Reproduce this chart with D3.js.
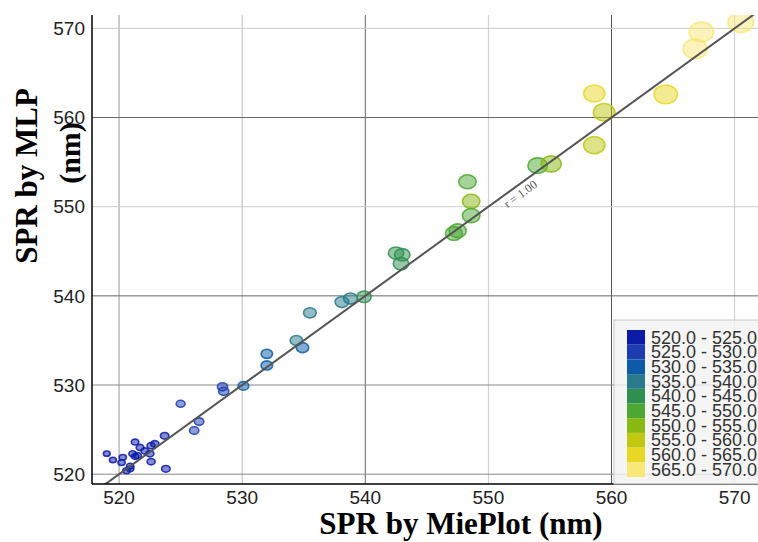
<!DOCTYPE html>
<html>
<head>
<meta charset="utf-8">
<script src="https://cdn.jsdelivr.net/npm/d3@7"></script>
<style>
  body { margin: 0; background: #fff; }
  svg { display: block; }
</style>
</head>
<body>
<div id="chart"></div>
<script>
// SPR by MiePlot (x) vs SPR by MLP (y), group = legend bin index
var mieplot = [519.0, 519.5, 520.2, 520.3, 520.6, 520.9, 520.9, 521.3, 521.7, 521.1,
               521.5, 521.3, 522.1, 522.5, 522.6, 522.9, 522.6, 523.7, 523.8, 525.0,
               526.1, 526.5, 528.4, 528.5, 530.1, 532.0, 532.0, 534.4, 534.9, 535.5,
               538.1, 538.8, 539.9, 542.5, 543.0, 542.9, 547.2, 547.5, 548.3, 548.6,
               548.6, 554.0, 555.1, 558.6, 559.4, 558.6, 564.4, 566.8, 567.3, 570.5];
var mlp     = [522.3, 521.6, 521.3, 521.9, 520.4, 520.6, 520.9, 523.6, 523.0, 522.3,
               522.1, 522.0, 522.6, 522.3, 523.2, 523.4, 521.4, 524.3, 520.6, 527.9,
               524.9, 525.9, 529.8, 529.3, 529.9, 533.5, 532.2, 535.0, 534.2, 538.1,
               539.3, 539.7, 539.9, 544.8, 544.6, 543.6, 547.0, 547.3, 552.8, 550.6,
               549.0, 554.6, 554.8, 556.9, 560.6, 562.7, 562.6, 567.7, 569.6, 570.7];
var group   = [0, 0, 0, 0, 0, 0, 0, 0, 0, 0,
               0, 0, 0, 0, 0, 0, 0, 0, 0, 1,
               1, 1, 1, 1, 2, 2, 2, 3, 2, 3,
               3, 3, 4, 4, 4, 4, 5, 5, 5, 6,
               5, 5, 6, 7, 7, 8, 8, 9, 9, 9];

var legendLabels = ["520.0 - 525.0", "525.0 - 530.0", "530.0 - 535.0", "535.0 - 540.0",
                    "540.0 - 545.0", "545.0 - 550.0", "550.0 - 555.0", "555.0 - 560.0",
                    "560.0 - 565.0", "565.0 - 570.0"];
var legendColors = ["#0c1aa8", "#1c3cb0", "#0c5aa8", "#287a8c", "#2f8f50",
                    "#4ca832", "#88b812", "#c0c812", "#e8d824", "#f8e878"];
var ticks = [520, 530, 540, 550, 560, 570];
var rLabel = "r = 1.00";

var width = 758, height = 542,
    pL = 92, pR = 758, pT = 15, pB = 484;

var svg = d3.select("#chart").append("svg")
    .attr("width", width)
    .attr("height", height);

var x = d3.scaleLinear().domain([517.8, 571.9]).range([pL, pR]);
var y = d3.scaleLinear().domain([518.9, 571.5]).range([pB, pT]);
var rx = d3.scaleLinear().domain([520, 570]).range([4.3, 13.4]);
var color = d3.scaleOrdinal().domain(d3.range(10)).range(legendColors);

svg.append("clipPath").attr("id", "plot")
  .append("rect")
    .attr("x", pL).attr("y", pT)
    .attr("width", pR - pL).attr("height", pB - pT);

// grid lines (the source has uneven grey shades)
var vShade = ["#999", "#bbb", "#666", "#ccc", "#555", "#ccc"];
var hShade = ["#888", "#888", "#666", "#ccc", "#666", "#ccc"];

svg.append("g").selectAll("line")
    .data(ticks)
  .enter().append("line")
    .attr("x1", function(d) { return x(d); })
    .attr("x2", function(d) { return x(d); })
    .attr("y1", pT).attr("y2", pB)
    .style("stroke", function(d, i) { return vShade[i]; })
    .style("stroke-width", 1);

svg.append("g").selectAll("line")
    .data(ticks)
  .enter().append("line")
    .attr("y1", function(d) { return y(d); })
    .attr("y2", function(d) { return y(d); })
    .attr("x1", pL).attr("x2", pR)
    .style("stroke", function(d, i) { return hShade[i]; })
    .style("stroke-width", 1);

// points
var pts = svg.append("g").attr("clip-path", "url(#plot)");
pts.selectAll("ellipse")
    .data(d3.range(mieplot.length))
  .enter().append("ellipse")
    .attr("cx", function(i) { return x(mieplot[i]); })
    .attr("cy", function(i) { return y(mlp[i]); })
    .attr("rx", function(i) { return rx(mieplot[i]) - 0.75; })
    .attr("ry", function(i) { return rx(mieplot[i]) * 0.82 - 0.75; })
    .style("fill", function(i) { return color(group[i]); })
    .style("fill-opacity", 0.5)
    .style("stroke", function(i) { return color(group[i]); })
    .style("stroke-opacity", 0.85)
    .style("stroke-width", 1.6);

// fit line y = x
var fit = [517.8, 572];
pts.append("line")
    .attr("x1", x(fit[0])).attr("y1", y(fit[0]))
    .attr("x2", x(fit[1])).attr("y2", y(fit[1]))
    .style("stroke", "#555")
    .style("stroke-width", 2);

var ang = Math.atan2(y(560) - y(550), x(560) - x(550)) * 180 / Math.PI;
svg.append("text")
    .attr("transform", "translate(" + (x(552.3) + 6) + "," + (y(552.3) + 11) + ") rotate(" + ang + ")")
    .attr("text-anchor", "middle")
    .style("font-family", "Liberation Serif")
    .style("font-size", "12px")
    .style("fill", "#555")
    .text(rLabel);

// axes
svg.append("line")
    .attr("x1", pL).attr("x2", pL).attr("y1", pT).attr("y2", pB)
    .style("stroke", "#000").style("stroke-width", 1.5);
svg.append("line")
    .attr("x1", pL).attr("x2", pR).attr("y1", pB).attr("y2", pB)
    .style("stroke", "#000").style("stroke-width", 1.5);

svg.append("g").selectAll("text")
    .data(ticks)
  .enter().append("text")
    .attr("x", function(d) { return x(d); })
    .attr("y", pB + 20)
    .attr("text-anchor", "middle")
    .style("font-family", "Liberation Sans")
    .style("font-size", "19px")
    .style("fill", "#222")
    .text(function(d) { return d; });

svg.append("g").selectAll("text")
    .data(ticks)
  .enter().append("text")
    .attr("x", pL - 7)
    .attr("y", function(d) { return y(d); })
    .attr("dy", "0.35em")
    .attr("text-anchor", "end")
    .style("font-family", "Liberation Sans")
    .style("font-size", "19px")
    .style("fill", "#222")
    .text(function(d) { return d; });

// axis titles
svg.append("text")
    .attr("x", 461).attr("y", 534)
    .attr("text-anchor", "middle")
    .style("font-family", "Liberation Serif")
    .style("font-weight", "bold")
    .style("font-size", "31px")
    .text("SPR by MiePlot (nm)");

svg.append("text")
    .attr("transform", "translate(37,176) rotate(-90)")
    .attr("text-anchor", "middle")
    .style("font-family", "Liberation Serif")
    .style("font-weight", "bold")
    .style("font-size", "31px")
    .text("SPR by MLP");

svg.append("text")
    .attr("transform", "translate(80,153) rotate(-90)")
    .attr("text-anchor", "middle")
    .style("font-family", "Liberation Serif")
    .style("font-weight", "bold")
    .style("font-size", "30px")
    .text("(nm)");

// legend
var lg = svg.append("g").attr("transform", "translate(614,320)");
lg.append("rect")
    .attr("width", 150).attr("height", 164)
    .style("fill", "#f2f2f2")
    .style("fill-opacity", 0.8)
    .style("stroke", "#c8c8c8");

var row = lg.selectAll("g.row")
    .data(legendLabels)
  .enter().append("g")
    .attr("class", "row")
    .attr("transform", function(d, i) { return "translate(13," + (10 + i * 14.7) + ")"; });

row.append("rect")
    .attr("width", 18).attr("height", 14.7)
    .style("fill", function(d, i) { return legendColors[i]; });

row.append("text")
    .attr("x", 24).attr("y", 13.5)
    .style("font-family", "Liberation Sans")
    .style("font-size", "18px")
    .style("fill", "#333")
    .text(function(d) { return d; });
</script>
</body>
</html>
